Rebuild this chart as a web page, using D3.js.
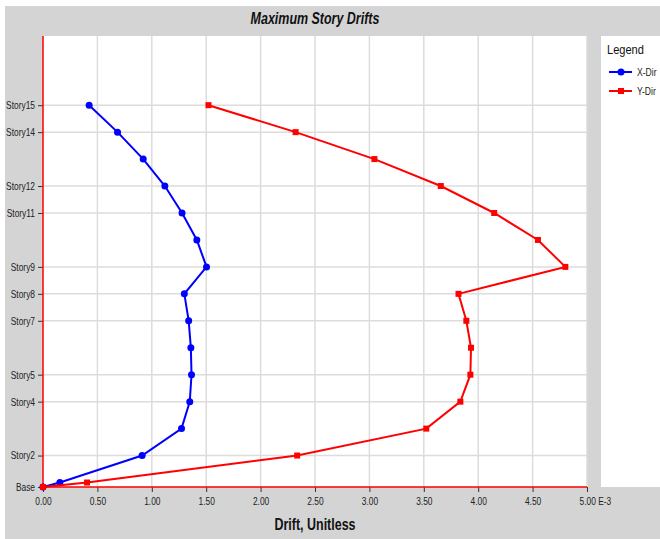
<!DOCTYPE html>
<html>
<head>
<meta charset="utf-8">
<script src="https://cdn.jsdelivr.net/npm/d3@7"></script>
<style>
	body { margin:0; background:#fff; }
	text { font-family:"Liberation Sans",Arial,sans-serif; }
</style>
</head>
<body>
<div id="chart"></div>
<script>
// stories, bottom to top
const stories = ["Base","Story1","Story2","Story3","Story4","Story5","Story6","Story7","Story8",
	"Story9","Story10","Story11","Story12","Story13","Story14","Story15"];
// elevation of each story (m)
const elevations = [0,0.5,3.5,6.5,9.5,12.5,15.5,18.5,21.5,24.5,27.5,30.5,33.5,36.5,39.5,42.5];
// drift values (x 1E-3)
const xDir = [0,0.155,0.911,1.273,1.349,1.365,1.359,1.339,1.299,1.503,1.414,1.278,1.120,0.921,0.685,0.424];
const yDir = [0,0.405,2.336,3.523,3.836,3.928,3.934,3.891,3.819,4.801,4.549,4.147,3.656,3.046,2.322,1.521];
// labelled stories on the y axis
const yLabels = ["Story15","Story14","Story12","Story11","Story9","Story8","Story7","Story5","Story4","Story2","Base"];
const xTicks = [0,0.5,1,1.5,2,2.5,3,3.5,4,4.5,5];

//narrow text: no condensed font installed, so squeeze horizontally
const SX = 0.8;

function placeText(sel, x, y, sx){
	return sel.attr("transform", `translate(${x},${y}) scale(${sx},1)`);
}

function graph(){

	const width = 660, height = 539;
	const margin = {top:36, right:73, bottom:52, left:43};

	const svg = d3.select("#chart").append("svg")
		.attr("width", width)
		.attr("height", height);

	//gray panel
	svg.append("rect")
		.attr("x", 5).attr("y", 6)
		.attr("width", width-5).attr("height", height-6)
		.attr("fill", "#d4d4d4");

	const xScale = d3.scaleLinear()
		.domain([0,5])
		.range([margin.left, width-margin.right]);

	const yScale = d3.scaleLinear()
		.domain([0,50.2])
		.range([height-margin.bottom, margin.top]);

	const elevOf = (s)=>{ return elevations[stories.indexOf(s)]; };

	//plot background
	svg.append("rect")
		.attr("x", xScale(0)).attr("y", margin.top)
		.attr("width", xScale(5)-xScale(0))
		.attr("height", yScale(0)-margin.top)
		.attr("fill", "#fff");

	//legend background
	svg.append("rect")
		.attr("x", 601).attr("y", margin.top)
		.attr("width", width-601)
		.attr("height", yScale(0)-margin.top)
		.attr("fill", "#fff");

	//grid
	svg.append("g")
		.selectAll("line")
		.data(xTicks.slice(1))
		.enter().append("line")
		.attr("x1", (d)=>xScale(d)).attr("x2", (d)=>xScale(d))
		.attr("y1", margin.top).attr("y2", yScale(0))
		.attr("stroke", "#dcdcdc").attr("stroke-width", 1.5);

	svg.append("g")
		.selectAll("line")
		.data(yLabels.slice(0,-1))
		.enter().append("line")
		.attr("x1", xScale(0)).attr("x2", xScale(5))
		.attr("y1", (d)=>yScale(elevOf(d))).attr("y2", (d)=>yScale(elevOf(d)))
		.attr("stroke", "#dcdcdc").attr("stroke-width", 1.5);

	//axes
	const xAxis = d3.axisBottom(xScale)
		.tickValues(xTicks)
		.tickSize(5)
		.tickSizeOuter(0)
		.tickFormat((d)=>d3.format(".2f")(d));

	const gx = svg.append("g")
		.attr("transform", `translate(0,${yScale(0)})`)
		.call(xAxis);
	gx.select(".domain").remove();
	gx.selectAll(".tick line").attr("stroke", "#333");
	gx.selectAll(".tick text")
		.attr("y", 11)
		.attr("fill", "#222")
		.attr("transform", `scale(${SX},1)`)
		.style("font-size", "10.5px");
	gx.selectAll(".tick").filter((d)=>d===5).select("text")
		.attr("text-anchor", "start")
		.attr("x", -10)
		.text("5.00 E-3");

	const yAxis = d3.axisLeft(yScale)
		.tickValues(yLabels.map(elevOf))
		.tickSize(5)
		.tickSizeOuter(0)
		.tickFormat((d)=>stories[elevations.indexOf(d)]);

	const gy = svg.append("g")
		.attr("transform", `translate(${xScale(0)},0)`)
		.call(yAxis);
	gy.select(".domain").remove();
	gy.selectAll(".tick line").attr("stroke", "#333");
	gy.selectAll(".tick text")
		.attr("x", -8/SX)
		.attr("fill", "#222")
		.attr("transform", `scale(${SX},1)`)
		.style("font-size", "10.5px");

	//red axis lines
	svg.append("line")
		.attr("x1", xScale(0)).attr("x2", xScale(0))
		.attr("y1", margin.top).attr("y2", yScale(0))
		.attr("stroke", "#ff0000").attr("stroke-width", 1.5);
	svg.append("line")
		.attr("x1", xScale(0)).attr("x2", xScale(5))
		.attr("y1", yScale(0)).attr("y2", yScale(0))
		.attr("stroke", "#ff0000").attr("stroke-width", 1.5);

	//series
	const line = d3.line()
		.x((d)=>xScale(d[0]))
		.y((d)=>yScale(d[1]));

	const series = [
		{key:"X-Dir", values:xDir, color:"#0000ff", shape:"circle"},
		{key:"Y-Dir", values:yDir, color:"#ff0000", shape:"square"}
	];

	series.forEach((s)=>{
		const pts = s.values.map((v,i)=>[v, elevations[i]]);
		svg.append("path")
			.datum(pts)
			.attr("d", line)
			.attr("fill", "none")
			.attr("stroke", s.color)
			.attr("stroke-width", 2);
		if(s.shape==="circle"){
			svg.append("g").selectAll("circle")
				.data(pts).enter().append("circle")
				.attr("cx", (d)=>xScale(d[0]))
				.attr("cy", (d)=>yScale(d[1]))
				.attr("r", 3.5)
				.attr("fill", s.color);
		} else {
			svg.append("g").selectAll("rect")
				.data(pts).enter().append("rect")
				.attr("x", (d)=>xScale(d[0])-3)
				.attr("y", (d)=>yScale(d[1])-3)
				.attr("width", 6).attr("height", 6)
				.attr("fill", s.color);
		}
	});

	//title
	svg.append("text")
		.call(placeText, (xScale(0)+xScale(5))/2, 24, 0.78)
		.attr("text-anchor", "middle")
		.style("font-size", "16px")
		.style("font-weight", "bold")
		.style("font-style", "italic")
		.attr("fill", "#111")
		.text("Maximum Story Drifts");

	//x label
	svg.append("text")
		.call(placeText, (xScale(0)+xScale(5))/2, 530, 0.78)
		.attr("text-anchor", "middle")
		.style("font-size", "16px")
		.style("font-weight", "bold")
		.attr("fill", "#111")
		.text("Drift, Unitless");

	//legend
	svg.append("text")
		.call(placeText, 607, 54, 0.82)
		.style("font-size", "13.5px")
		.attr("fill", "#111")
		.text("Legend");

	const leg = svg.selectAll(".leg")
		.data(series)
		.enter().append("g")
		.attr("class", "leg")
		.attr("transform", (d,i)=>`translate(609,${72+i*19})`);

	leg.append("line")
		.attr("x1", 0).attr("x2", 23)
		.attr("stroke", (d)=>d.color)
		.attr("stroke-width", 2);
	leg.filter((d)=>d.shape==="circle").append("circle")
		.attr("cx", 12).attr("r", 3.5)
		.attr("fill", (d)=>d.color);
	leg.filter((d)=>d.shape==="square").append("rect")
		.attr("x", 9).attr("y", -3)
		.attr("width", 6).attr("height", 6)
		.attr("fill", (d)=>d.color);
	leg.append("text")
		.call(placeText, 28, 4, 0.82)
		.style("font-size", "10.5px")
		.attr("fill", "#222")
		.text((d)=>d.key);

}

graph();
</script>
</body>
</html>
